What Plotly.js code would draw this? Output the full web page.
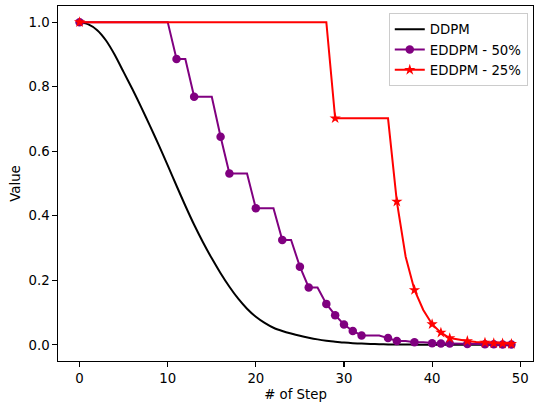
<!DOCTYPE html>
<html>
<head>
<meta charset="utf-8">
<script src="https://cdn.plot.ly/plotly-3.0.1.min.js"></script>
<style>html,body{margin:0;padding:0;background:#fff;}#chart{width:535px;height:402px;}</style>
</head>
<body>
<div id="chart"></div>
<script>
const steps = [0,1,2,3,4,5,6,7,8,9,10,11,12,13,14,15,16,17,18,19,20,21,22,23,24,25,26,27,28,29,30,31,32,33,34,35,36,37,38,39,40,41,42,43,44,45,46,47,48,49];

const ddpm = [1.000,0.993,0.975,0.943,0.898,0.845,0.792,0.736,0.678,0.618,
              0.556,0.493,0.431,0.372,0.318,0.268,0.222,0.180,0.143,0.112,
              0.087,0.068,0.053,0.043,0.035,0.028,0.022,0.017,0.013,0.010,
              0.007,0.005,0.004,0.003,0.002,0.0015,0.001,0.001,0.0007,0.0005,
              0.0004,0.0003,0.0002,0.0002,0.0001,0.0001,0.0001,0.0001,0.0,0.0];

const eddpm50 = [1,1,1,1,1,1,1,1,1,1,
                 1,0.886,0.886,0.769,0.769,0.769,0.645,0.531,0.531,0.531,
                 0.423,0.423,0.423,0.325,0.325,0.242,0.178,0.178,0.127,0.092,
                 0.063,0.043,0.029,0.029,0.029,0.021,0.012,0.012,0.008,0.008,
                 0.005,0.004,0.004,0.004,0.003,0.003,0.002,0.002,0.001,0.001];
const eddpm50Marked = [0,11,13,16,17,20,23,25,26,28,29,30,31,32,35,36,38,40,41,42,44,46,47,48,49];

const eddpm25 = [1,1,1,1,1,1,1,1,1,1,
                 1,1,1,1,1,1,1,1,1,1,
                 1,1,1,1,1,1,1,1,1,0.702,
                 0.702,0.702,0.702,0.702,0.702,0.702,0.444,0.273,0.170,0.108,
                 0.064,0.038,0.021,0.016,0.012,0.009,0.007,0.005,0.004,0.003];
const eddpm25Marked = [0,29,36,38,40,41,42,44,46,47,48,49];

const seriesNames = ['DDPM', 'EDDPM - 50%', 'EDDPM - 25%'];
const xTicks = [0,10,20,30,40,50];
const yTicks = [0,0.2,0.4,0.6,0.8,1.0];

function markColors(marked, color) {
  return steps.map(s => marked.includes(s) ? color : 'rgba(0,0,0,0)');
}

const font = {family: 'DejaVu Sans, sans-serif', size: 13.3, color: '#000'};

const traces = [
  {x: steps, y: ddpm, name: seriesNames[0], mode: 'lines',
   line: {color: '#000000', width: 2, shape: 'spline', smoothing: 0.6}},
  {x: steps, y: eddpm50, name: seriesNames[1], mode: 'lines+markers',
   line: {color: '#800080', width: 2},
   marker: {symbol: 'circle', size: 8.5, color: markColors(eddpm50Marked, '#800080'), line: {width: 0}}},
  {x: steps, y: eddpm25, name: seriesNames[2], mode: 'lines+markers',
   line: {color: '#ff0000', width: 2},
   marker: {symbol: 'star', size: 8.5, color: markColors(eddpm25Marked, '#ff0000'), line: {width: 0}}}
];

const axisCommon = {
  showgrid: false, zeroline: false, showline: true, mirror: true,
  linecolor: '#000', linewidth: 1.1, ticks: 'outside', ticklen: 4.5,
  tickwidth: 1.1, tickcolor: '#000', tickfont: font
};

const layout = {
  width: 535, height: 402,
  margin: {l: 58, r: 2, t: 6, b: 41},
  paper_bgcolor: '#fff', plot_bgcolor: '#fff',
  font: font,
  showlegend: true,
  legend: {x: 0.989, y: 0.98, xanchor: 'right', yanchor: 'top',
           bgcolor: 'rgba(255,255,255,0.8)', bordercolor: '#cccccc', borderwidth: 1,
           font: font, tracegroupgap: 0},
  xaxis: Object.assign({}, axisCommon, {
    range: [-2.45, 51.45], tickvals: xTicks, ticktext: xTicks.map(String),
    title: {text: '# of Step', font: font, standoff: 6}
  }),
  yaxis: Object.assign({}, axisCommon, {
    range: [-0.05, 1.05], tickvals: yTicks, ticktext: yTicks.map(v => v.toFixed(1)),
    title: {text: 'Value', font: font, standoff: 4}
  })
};

Plotly.newPlot('chart', traces, layout, {displayModeBar: false, staticPlot: true});
</script>
</body>
</html>
